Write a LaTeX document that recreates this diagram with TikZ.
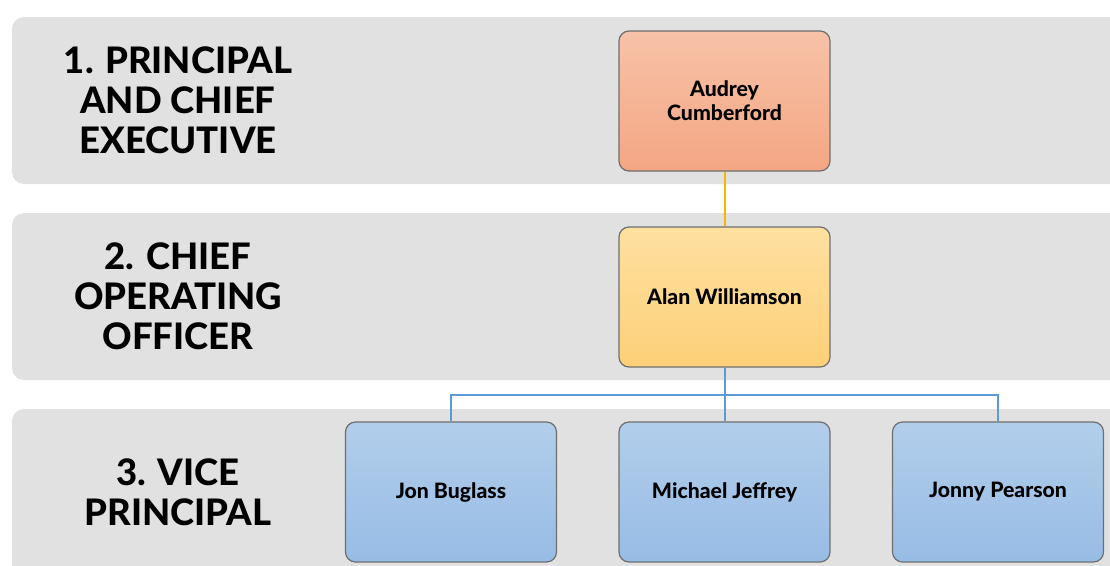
\documentclass[tikz,border=0pt]{standalone}
\usepackage{fontspec}
\setmainfont{Lato}
\newfontfamily\heavyfont{Lato Heavy}
\usetikzlibrary{calc}
\definecolor{bandgray}{HTML}{E1E1E1}
\definecolor{boxborder}{HTML}{6E6E6E}
\definecolor{orgtop}{HTML}{F7C2A8}
\definecolor{orgbot}{HTML}{F4A683}
\definecolor{yeltop}{HTML}{FEE0A0}
\definecolor{yelbot}{HTML}{FDD078}
\definecolor{blutop}{HTML}{B2CEEB}
\definecolor{blubot}{HTML}{97BCE5}
\definecolor{goldline}{HTML}{F2B705}
\definecolor{blueline}{HTML}{5B9BD5}
\tikzset{
  band/.style={fill=bandgray, rounded corners=12pt},
  levellabel/.style={align=center, font=\fontsize{36.5}{40}\selectfont\heavyfont, text=black, inner sep=0pt},
  person/.style={draw=boxborder, line width=1.2pt, rounded corners=10pt, minimum width=211pt, minimum height=140pt, inner sep=0pt, align=center, font=\fontsize{21.2}{23}\selectfont\heavyfont, text=black},
  orangebox/.style={person, top color=orgtop, bottom color=orgbot},
  yellowbox/.style={person, top color=yeltop, bottom color=yelbot},
  bluebox/.style={person, top color=blutop, bottom color=blubot},
  goldconn/.style={draw=goldline, line width=2pt},
  blueconn/.style={draw=blueline, line width=2pt},
}
\begin{document}
\begin{tikzpicture}[x=1pt, y=-1pt]
\useasboundingbox (0,0) rectangle (1110,565);
\clip (0,0) rectangle (1110,565);
\fill[white] (0,0) rectangle (1110,565);
% bands
\fill[band] (12,17) rectangle (1140,184);
\fill[band] (12,213) rectangle (1140,380);
\fill[band] (12,409) rectangle (1140,600);
% level labels
\node[levellabel] (l1) at (178,100) {1. PRINCIPAL\\AND CHIEF\\EXECUTIVE};
\node[levellabel] (l2) at (178,296) {2. CHIEF\\OPERATING\\OFFICER};
\node[levellabel] (l3) at (178,492) {3. VICE\\PRINCIPAL};
% people
\node[orangebox] (aud) at (724.5,101) {\raisebox{1.5pt}{Audrey}\\\raisebox{1pt}{Cumberford}};
\node[yellowbox] (alan) at (724.5,297) {Alan Williamson};
\node[bluebox] (jon) at (451,492) {\raisebox{-1.5pt}{Jon Buglass}};
\node[bluebox] (mic) at (724.5,492) {\raisebox{-1.5pt}{Michael Jeffrey}};
\node[bluebox] (jonny) at (998,492) {\raisebox{-1.5pt}{Jonny Pearson}};
% connectors
\coordinate (bus) at (724.5,395);
\draw[goldconn] (aud.south) -- (alan.north);
\draw[blueconn] (alan.south) -- (mic.north);
\draw[blueconn] (jon.north) |- (bus) -| (jonny.north);
\end{tikzpicture}
\end{document}
